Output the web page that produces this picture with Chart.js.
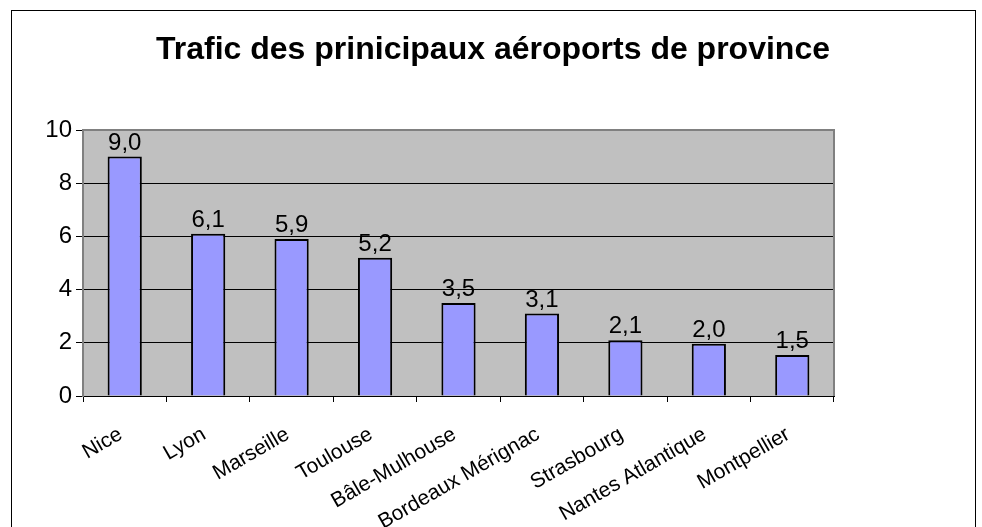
<!DOCTYPE html>
<html>
<head>
<meta charset="utf-8">
<script src="https://cdn.jsdelivr.net/npm/chart.js@4/dist/chart.umd.min.js"></script>
<style>
  html, body { margin: 0; padding: 0; background: #fff; }
  #wrap { width: 982px; height: 527px; position: relative; }
</style>
</head>
<body>
<div id="wrap"><canvas id="graph"></canvas></div>
<script>
// données
const aeroports = ['Nice', 'Lyon', 'Marseille', 'Toulouse', 'Bâle-Mulhouse',
    'Bordeaux Mérignac', 'Strasbourg', 'Nantes Atlantique', 'Montpellier'];
const trafic = [9.0, 6.1, 5.9, 5.2, 3.5, 3.1, 2.1, 1.96, 1.54];
const titre = 'Trafic des prinicipaux aéroports de province';

const police = '"Liberation Sans", Arial, sans-serif';

// fond gris, cadre, titre et étiquettes de valeurs
const fondPlugin = {
    id: 'fond',
    beforeDraw(chart) {
        const ctx = chart.ctx;
        const a = chart.chartArea;
        ctx.save();
        ctx.strokeStyle = '#000';
        ctx.lineWidth = 1;
        ctx.strokeRect(11.5, 10.5, 964, 540);
        ctx.fillStyle = '#C0C0C0';
        ctx.fillRect(a.left, a.top, a.right - a.left, a.bottom - a.top);
        ctx.fillStyle = '#000';
        ctx.font = 'bold 32px ' + police;
        ctx.textAlign = 'center';
        ctx.textBaseline = 'alphabetic';
        ctx.fillText(titre, 493, 59);
        ctx.restore();
    },
    afterDatasetsDraw(chart) {
        const ctx = chart.ctx;
        const a = chart.chartArea;
        ctx.save();
        ctx.strokeStyle = '#808080';
        ctx.lineWidth = 2;
        ctx.beginPath();
        ctx.moveTo(a.left, a.top);
        ctx.lineTo(a.right, a.top);
        ctx.lineTo(a.right, a.bottom);
        ctx.stroke();
        ctx.fillStyle = '#000';
        ctx.font = '24px ' + police;
        ctx.textAlign = 'center';
        ctx.textBaseline = 'alphabetic';
        chart.getDatasetMeta(0).data.forEach((bar, i) => {
            ctx.fillText(trafic[i].toFixed(1).replace('.', ','), bar.x, bar.y - 7);
        });
        ctx.restore();
    }
};

new Chart(document.getElementById('graph'), {
    type: 'bar',
    data: {
        labels: aeroports,
        datasets: [{
            data: trafic,
            backgroundColor: '#9999FF',
            borderColor: '#000',
            borderWidth: 2,
            barPercentage: 0.41,
            categoryPercentage: 1
        }]
    },
    options: {
        responsive: true,
        maintainAspectRatio: false,
        animation: false,
        layout: { padding: { left: 30, right: 148, top: 130, bottom: 0 } },
        plugins: {
            legend: { display: false },
            tooltip: { enabled: false },
            title: { display: false }
        },
        scales: {
            x: {
                grid: { drawOnChartArea: false, color: '#000', tickLength: 6, offset: true },
                border: { color: '#000', width: 1 },
                ticks: {
                    color: '#000',
                    minRotation: 30,
                    maxRotation: 30,
                    autoSkip: false,
                    padding: 20,
                    labelOffset: -4,
                    font: { family: police, size: 21 }
                },
                afterFit(s) { s.height = 131; }
            },
            y: {
                min: 0,
                max: 10,
                grid: { color: '#000', tickLength: 7 },
                border: { color: '#808080', width: 2 },
                ticks: {
                    stepSize: 2,
                    color: '#000',
                    padding: 4,
                    font: { family: police, size: 24 }
                },
                afterFit(s) { s.width = 53; }
            }
        }
    },
    plugins: [fondPlugin]
});
</script>
</body>
</html>
